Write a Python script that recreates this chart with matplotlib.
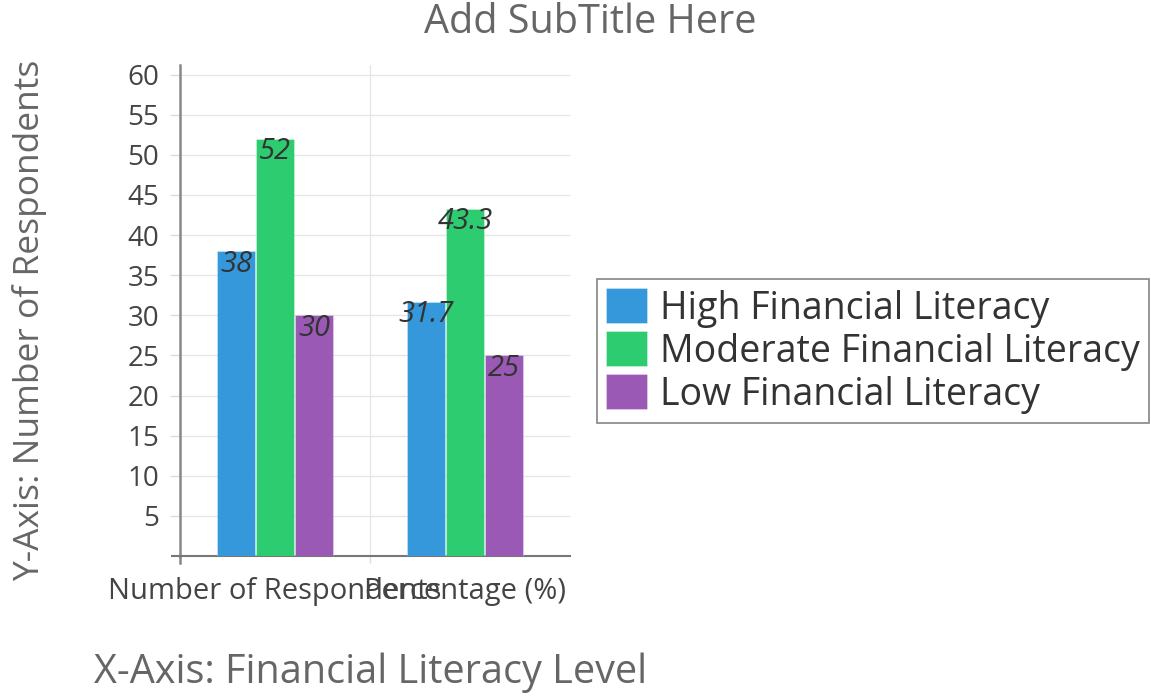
import matplotlib
matplotlib.use("Agg")
import matplotlib.pyplot as plt
import numpy as np

categories = ["Number of Respondents", "Percentage (%)"]
series_names = ["High Financial Literacy", "Moderate Financial Literacy", "Low Financial Literacy"]
high = [38, 31.7]
moderate = [52, 43.3]
low = [30, 25]
colors = ["#3498db", "#2ecc71", "#9b59b6"]
y_ticks = [5, 10, 15, 20, 25, 30, 35, 40, 45, 50, 55, 60]

plt.rcParams['font.family'] = ['Open Sans', 'DejaVu Sans']

fig = plt.figure(figsize=(11.51, 6.96), dpi=100)
ax = fig.add_axes([180/1151, 1-556/696, (570-180)/1151, (556-65)/696])

x = np.arange(len(categories))
width = 0.2
step = 0.205
data = [high, moderate, low]
bars_all = []
for i, (vals, c, name) in enumerate(zip(data, colors, series_names)):
    bars = ax.bar(x + (i-1)*step, vals, width, color=c, label=name,
                  edgecolor=(1, 1, 1, 0.35), linewidth=0.6, zorder=3)
    bars_all.append(bars)
    for xi, v in zip(x + (i-1)*step, vals):
        ax.text(xi, v + 0.2, f"{v:g}", ha='center', va='top', fontsize=21,
                style='italic', color='#333333', zorder=4)

ax.set_xlim(-0.5, 1.55)
ax.set_ylim(0, 61.2)
ax.set_yticks(y_ticks)
ax.set_yticklabels([str(t) for t in y_ticks])
ax.tick_params(axis='y', length=7, width=1, color='#dddddd', pad=8,
               labelsize=20, labelcolor='#444444')
ax.set_xticks(x)
ax.set_xticklabels(categories)
ax.tick_params(axis='x', which='major', length=0, pad=15, labelsize=21, labelcolor='#444444')
ax.set_xticks([-0.5, 0.5], minor=True)
ax.tick_params(axis='x', which='minor', length=5, color='#dddddd', width=1)
ax.grid(axis='y', color='#e6e6e6', linewidth=1, zorder=0)
ax.grid(axis='x', which='minor', color='#e6e6e6', linewidth=1, zorder=0)

for s in ['top', 'right']:
    ax.spines[s].set_visible(False)
ax.spines['left'].set_color('#888888')
ax.spines['left'].set_linewidth(1.8)
ax.spines['bottom'].set_color('#777777')
ax.spines['bottom'].set_linewidth(1.5)
# small extensions of axis lines
ax.plot([0, 0], [-0.015, 0], transform=ax.transAxes, clip_on=False, color='#888888', lw=1.8)
ax.plot([-0.02, 0], [0, 0], transform=ax.transAxes, clip_on=False, color='#777777', lw=1.5)

fig.text(590/1151, 1-23/696, "Add SubTitle Here", ha='center', va='center',
         fontsize=28.5, color='#666666')
fig.text(30/1151, 1-320/696, "Y-Axis: Number of Respondents", rotation=90,
         ha='center', va='center', fontsize=25.5, color='#666666')
fig.text(371/1151, 1-673/696, "X-Axis: Financial Literacy Level",
         ha='center', va='center', fontsize=28.5, color='#666666')

leg = fig.legend(handles=[b[0] for b in bars_all], labels=series_names,
                 loc='center left', bbox_to_anchor=(597/1151, 1-351/696),
                 fontsize=27, frameon=True, fancybox=False, borderpad=0.25,
                 handlelength=1.09, handleheight=1.05, handletextpad=0.33,
                 labelspacing=0.1, borderaxespad=0)
leg.get_frame().set_edgecolor('#666666')
leg.get_frame().set_linewidth(1.2)
for t in leg.get_texts():
    t.set_color('#333333')

fig.savefig("out.png", dpi=100)
